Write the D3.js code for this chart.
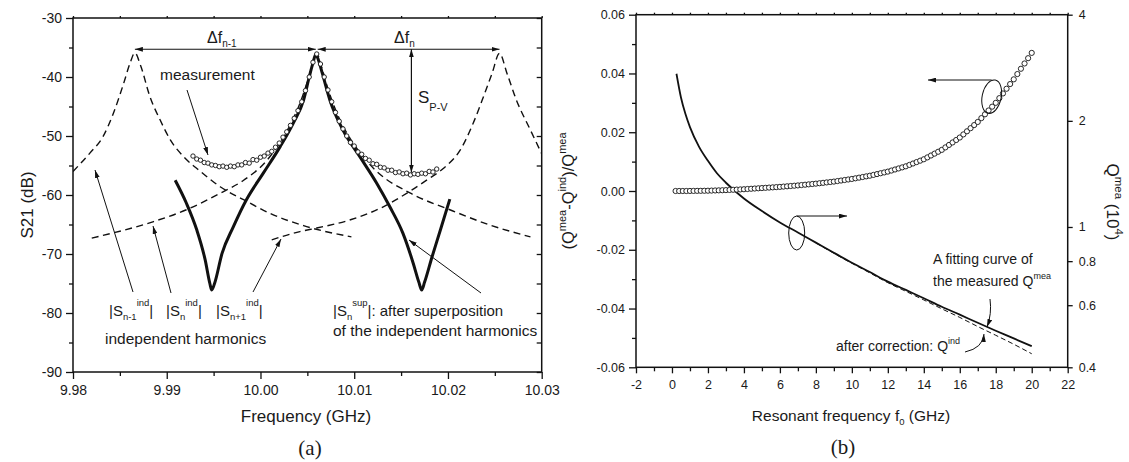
<!DOCTYPE html>
<html>
<head>
<meta charset="utf-8">
<script src="https://cdn.jsdelivr.net/npm/d3@7"></script>
<style>
  body { margin: 0; background: #fff; }
  svg text { font-family: "Liberation Sans", Arial, sans-serif; fill: #1a1a1a; white-space: pre; }
</style>
</head>
<body>
<svg id="chart" width="1129" height="462"></svg>
<script>
// ---------- panel (a): S21 near the n-th harmonic ----------
const freqTicksA = [9.98, 9.99, 10.00, 10.01, 10.02, 10.03];
const freqMinorA = [9.985, 9.995, 10.005, 10.015, 10.025];
const dbTicksA = [-90, -80, -70, -60, -50, -40, -30];
const dbMinorA = [-85, -75, -65, -55, -45, -35];

// independent harmonics [GHz, dB]
const harmPrev = [[9.9800,-56.0],[9.9818,-52.9],[9.9832,-50.1],[9.9843,-46.2],[9.9854,-41.1],[9.9861,-37.6],
  [9.9866,-35.9],[9.9872,-38.0],[9.9882,-43.3],[9.9893,-47.3],[9.9904,-50.7],[9.9918,-53.5],[9.9936,-56.0],
  [9.9957,-58.6],[9.9982,-60.8],[10.0010,-63.1],[10.0046,-65.2],[10.0097,-67.1]];
const harmCur = [[9.9820,-67.3],[9.9886,-64.5],[9.9921,-62.5],[9.9957,-59.7],[9.9982,-57.5],[10.0007,-54.1],
  [10.0020,-51.3],[10.0032,-48.0],[10.0042,-44.5],[10.0050,-40.8],[10.0055,-38.2],[10.0060,-36.0],[10.0065,-38.2],
  [10.0072,-42.0],[10.0084,-47.0],[10.0098,-51.0],[10.0112,-54.0],[10.0124,-56.0],[10.0160,-59.7],[10.0202,-62.5],
  [10.0245,-65.1],[10.0288,-67.1]];
const harmNext = [[10.0012,-67.6],[10.0042,-66.2],[10.0060,-65.6],[10.0096,-64.2],[10.0131,-62.0],[10.0159,-59.4],
  [10.0178,-57.4],[10.0195,-55.5],[10.0213,-52.4],[10.0227,-47.8],[10.0238,-43.3],[10.0247,-39.4],[10.0255,-36.0],
  [10.0263,-39.4],[10.0273,-43.9],[10.0288,-49.0],[10.0300,-53.0]];

// |Sn sup|: after superposition
const superposed = [[9.9909,-57.5],[9.9921,-61.4],[9.9932,-65.9],[9.9941,-71.0],[9.9946,-75.0],[9.9948,-76.1],
  [9.9951,-75.0],[9.9959,-69.9],[9.9971,-65.4],[9.9985,-60.8],[10.0003,-56.3],[10.0021,-51.8],[10.0035,-47.8],
  [10.0046,-43.9],[10.0052,-40.0],[10.0056,-37.6],[10.0059,-36.2],[10.0062,-37.2],[10.0066,-39.4],[10.0074,-43.9],
  [10.0088,-49.0],[10.0106,-53.5],[10.0124,-58.0],[10.0138,-62.0],[10.0152,-66.5],[10.0163,-71.6],[10.0169,-74.8],
  [10.0172,-76.1],[10.0175,-74.8],[10.0183,-70.5],[10.0192,-65.9],[10.0202,-60.7]];

// measurement
const measured = [[9.9928,-53.4],[9.9932,-53.9],[9.9936,-54.1],[9.9940,-54.5],[9.9944,-54.6],[9.9948,-54.9],
  [9.9952,-55.0],[9.9956,-55.2],[9.9960,-55.1],[9.9964,-55.3],[9.9968,-55.1],[9.9972,-55.2],[9.9976,-54.9],
  [9.9980,-54.9],[9.9984,-54.5],[9.9988,-54.6],[9.9992,-54.0],[9.9996,-54.1],[10.0000,-53.6],[10.0004,-53.4],
  [10.0008,-52.9],[10.0012,-52.6],[10.0016,-51.9],[10.0020,-51.2],[10.0024,-50.2],[10.0028,-49.3],[10.0032,-48.2],
  [10.0036,-47.0],[10.0040,-45.7],[10.0044,-44.2],[10.0048,-42.3],[10.0052,-40.0],[10.0056,-37.5],[10.0060,-36.1],
  [10.0064,-37.8],[10.0068,-40.0],[10.0072,-42.2],[10.0076,-44.2],[10.0080,-46.0],[10.0084,-47.5],[10.0088,-48.8],
  [10.0092,-50.0],[10.0096,-51.1],[10.0100,-51.7],[10.0104,-52.7],[10.0108,-53.1],[10.0112,-53.8],[10.0116,-54.1],
  [10.0120,-54.7],[10.0124,-54.8],[10.0128,-55.3],[10.0132,-55.4],[10.0136,-55.8],[10.0140,-55.8],[10.0144,-56.2],
  [10.0148,-56.1],[10.0152,-56.4],[10.0156,-56.3],[10.0160,-56.6],[10.0164,-56.4],[10.0168,-56.5],[10.0172,-56.3],
  [10.0176,-56.4],[10.0180,-56.0],[10.0184,-56.1],[10.0188,-55.6]];

// ---------- panel (b): Q correction vs resonant frequency ----------
const freqTicksB = [-2, 0, 2, 4, 6, 8, 10, 12, 14, 16, 18, 20, 22];
const freqMinorB = [-1, 1, 3, 5, 7, 9, 11, 13, 15, 17, 19, 21];
const ratioTicksB = [-0.06, -0.04, -0.02, 0, 0.02, 0.04, 0.06];
const ratioMinorB = [-0.05, -0.03, -0.01, 0.01, 0.03, 0.05];
const qTicksB = [0.4, 0.6, 0.8, 1, 2, 4];

const freqB = [0.2,0.4,0.6,0.8,1.0,1.2,1.4,1.6,1.8,2.0,2.2,2.4,2.6,2.8,3.0,3.2,3.4,3.6,3.8,4.0,
  4.2,4.4,4.6,4.8,5.0,5.2,5.4,5.6,5.8,6.0,6.2,6.4,6.6,6.8,7.0,7.2,7.4,7.6,7.8,8.0,
  8.2,8.4,8.6,8.8,9.0,9.2,9.4,9.6,9.8,10.0,10.2,10.4,10.6,10.8,11.0,11.2,11.4,11.6,11.8,12.0,
  12.2,12.4,12.6,12.8,13.0,13.2,13.4,13.6,13.8,14.0,14.2,14.4,14.6,14.8,15.0,15.2,15.4,15.6,15.8,16.0,
  16.2,16.4,16.6,16.8,17.0,17.2,17.4,17.6,17.8,18.0,18.2,18.4,18.6,18.8,19.0,19.2,19.4,19.6,19.8,20.0];
const ratioB = [0,0,0,0,0.00002,0.00003,0.00005,0.00006,0.00008,0.0001,
  0.00014,0.00018,0.00022,0.00026,0.0003,0.00036,0.00042,0.00048,0.00054,0.0006,
  0.00068,0.00076,0.00084,0.00092,0.0010,0.00108,0.00116,0.00124,0.00132,0.0014,
  0.0015,0.0016,0.0017,0.0018,0.0019,0.00202,0.00214,0.00226,0.00238,0.0025,
  0.00264,0.00278,0.00292,0.00306,0.0032,0.00338,0.00356,0.00374,0.00392,0.0041,
  0.00432,0.00454,0.00476,0.00498,0.0052,0.00548,0.00576,0.00604,0.00632,0.0066,
  0.00696,0.00732,0.00768,0.00804,0.0084,0.00888,0.00936,0.00984,0.01032,0.0108,
  0.01144,0.01208,0.01272,0.01336,0.0140,0.01484,0.01568,0.01652,0.01736,0.0182,
  0.01926,0.02032,0.02138,0.02244,0.0235,0.0248,0.0261,0.0274,0.0287,0.0300,
  0.0316,0.0332,0.0348,0.0364,0.0380,0.0398,0.0416,0.0434,0.0452,0.0470];

const fitFreq = [0.25,0.5,0.75,1,1.5,2,2.5,3,4,5,6,7,8,9,10,11,12,13,14,15,16,17,18,19,20];
const qMeaFit = [2.72,2.33,2.09,1.92,1.69,1.54,1.42,1.335,1.205,1.11,1.03,0.965,0.903,0.845,0.792,0.745,
  0.70,0.663,0.628,0.594,0.564,0.535,0.508,0.483,0.459];
const indFreq = [8,9,10,11,12,13,14,15,16,17,18,19,20];
const qInd = [0.901,0.842,0.789,0.741,0.695,0.657,0.621,0.586,0.554,0.522,0.493,0.465,0.437];

// ---------- helpers ----------
const FONT = '"Liberation Sans", Arial, sans-serif';
const INK = '#111';
const loc = d3.formatLocale({decimal: '.', thousands: ',', grouping: [3], currency: ['', ''], minus: '-'});

const svg = d3.select('#chart');
const defs = svg.append('defs');
defs.append('marker').attr('id', 'head')
  .attr('viewBox', '0 0 10 6').attr('refX', 10).attr('refY', 3)
  .attr('markerWidth', 8).attr('markerHeight', 5).attr('markerUnits', 'userSpaceOnUse')
  .attr('orient', 'auto-start-reverse')
  .append('path').attr('d', 'M0,0L10,3L0,6Z').attr('fill', INK);

function axis(g, gen, values, size, fmt, fontSize, pad) {
  g.call(gen.tickValues(values).tickSizeInner(size).tickSizeOuter(0)
    .tickPadding(pad || 5).tickFormat(fmt || (() => '')));
  g.select('.domain').remove();
  g.selectAll('line').attr('stroke', INK).attr('stroke-width', 1.3);
  g.selectAll('text').attr('font-size', fontSize || 14).attr('font-family', FONT).attr('fill', '#1a1a1a');
  return g;
}

// text with sub/superscripts: parts are strings or [string, 'sub'|'sup']
function rich(g, x, y, parts, size, opts = {}) {
  const t = g.append('text').attr('x', x).attr('y', y).attr('font-size', size)
    .attr('text-anchor', opts.anchor || 'start');
  if (opts.transform) t.attr('transform', opts.transform);
  let cur = 0;
  parts.forEach(p => {
    const [s, kind] = Array.isArray(p) ? p : [p, null];
    const off = kind === 'sup' ? (opts.sup ?? -size * 0.45) : kind === 'sub' ? (opts.sub ?? size * 0.25) : 0;
    t.append('tspan').attr('dy', off - cur).attr('font-size', kind ? (opts.small || size * 0.62) : size).text(s);
    cur = off;
  });
  return t;
}

function arrow(g, x1, y1, x2, y2, both, w) {
  const l = g.append('line').attr('x1', x1).attr('y1', y1).attr('x2', x2).attr('y2', y2)
    .attr('stroke', INK).attr('stroke-width', w || 1).attr('marker-end', 'url(#head)');
  if (both) l.attr('marker-start', 'url(#head)');
  return l;
}

// ---------- panel (a) ----------
const xA = d3.scaleLinear().domain([9.98, 10.03]).range([73, 541.7]);
const yA = d3.scaleLinear().domain([-90, -30]).range([372, 18]);
const gA = svg.append('g');

defs.append('clipPath').attr('id', 'clipA').append('rect')
  .attr('x', xA(9.98)).attr('y', yA(-30)).attr('width', xA(10.03) - xA(9.98)).attr('height', yA(-90) - yA(-30));

axis(gA.append('g').attr('transform', `translate(0,${yA(-90)})`), d3.axisBottom(xA), freqTicksA, 7, loc.format('.2f'), 14, 6);
axis(gA.append('g').attr('transform', `translate(0,${yA(-90)})`), d3.axisBottom(xA), freqMinorA, 4);
axis(gA.append('g').attr('transform', `translate(${xA(9.98)},0)`), d3.axisLeft(yA), dbTicksA, 7, loc.format('d'), 14, 4);
axis(gA.append('g').attr('transform', `translate(${xA(9.98)},0)`), d3.axisLeft(yA), dbMinorA, 4);
axis(gA.append('g').attr('transform', `translate(0,${yA(-30)})`), d3.axisTop(xA), freqTicksA.concat(freqMinorA), 2);
axis(gA.append('g').attr('transform', `translate(${xA(10.03)},0)`), d3.axisRight(yA), dbTicksA.concat(dbMinorA), -5);

gA.append('rect').attr('x', xA(9.98)).attr('y', yA(-30))
  .attr('width', xA(10.03) - xA(9.98)).attr('height', yA(-90) - yA(-30))
  .attr('fill', 'none').attr('stroke', INK).attr('stroke-width', 1.5);

const plotA = gA.append('g').attr('clip-path', 'url(#clipA)');
const lineA = d3.line().x(d => xA(d[0])).y(d => yA(d[1])).curve(d3.curveMonotoneX);

plotA.selectAll('path.harm').data([harmPrev, harmCur, harmNext]).join('path')
  .attr('class', 'harm').attr('d', lineA).attr('fill', 'none')
  .attr('stroke', INK).attr('stroke-width', 1.4).attr('stroke-dasharray', '7,4.5');

plotA.append('path').datum(superposed).attr('d', lineA).attr('fill', 'none')
  .attr('stroke', INK).attr('stroke-width', 3).attr('stroke-linejoin', 'round');

plotA.selectAll('circle.meas').data(measured).join('circle')
  .attr('class', 'meas').attr('cx', d => xA(d[0])).attr('cy', d => yA(d[1])).attr('r', 2.2)
  .attr('fill', '#fff').attr('stroke', INK).attr('stroke-width', 0.9);

// annotations (a)
const pkY = yA(-35.3);
arrow(gA, xA(9.9866), pkY, xA(10.0059), pkY, true, 1.2);
arrow(gA, xA(10.0061), pkY, xA(10.0255), pkY, true, 1.2);
arrow(gA, xA(10.0161), pkY, xA(10.0161), yA(-56.2), true, 1.2);
rich(gA, 207, 43, ['\u0394f', ['n-1', 'sub']], 16, {small: 10, sub: 4});
rich(gA, 394, 43, ['\u0394f', ['n', 'sub']], 16, {small: 10, sub: 4});
rich(gA, 418, 103, ['S', ['P-V', 'sub']], 17, {small: 11, sub: 8});

gA.append('text').attr('x', 160).attr('y', 80).attr('font-size', 15.5).text('measurement');
arrow(gA, 187, 90, 208, 155);

rich(gA, 109, 316, ['|S', ['n-1', 'sub'], ['ind', 'sup'], '|'], 15, {small: 9.5, sub: 3.5, sup: -10});
rich(gA, 166, 316, ['|S', ['n', 'sub'], ['ind', 'sup'], '|'], 15, {small: 9.5, sub: 3.5, sup: -10});
rich(gA, 216, 316, ['|S', ['n+1', 'sub'], ['ind', 'sup'], '|'], 15, {small: 9.5, sub: 3.5, sup: -10});
gA.append('text').attr('x', 105).attr('y', 344).attr('font-size', 15.5).text('independent harmonics');
arrow(gA, 133, 292, 95, 170);
arrow(gA, 171, 293, 153, 226);
arrow(gA, 253, 292, 281, 239);

rich(gA, 333, 316, ['|S', ['n', 'sub'], ['sup', 'sup'], '|: after superposition'], 15, {small: 9.5, sub: 3.5, sup: -10});
gA.append('text').attr('x', 333).attr('y', 336).attr('font-size', 15.5).text('of the independent harmonics');
arrow(gA, 481, 293, 409, 240);

gA.append('text').attr('transform', 'translate(33,205) rotate(-90)').attr('text-anchor', 'middle')
  .attr('font-size', 17).text('S21 (dB)');
gA.append('text').attr('x', 306).attr('y', 422).attr('text-anchor', 'middle')
  .attr('font-size', 17).text('Frequency (GHz)');
gA.append('text').attr('x', 310).attr('y', 455).attr('text-anchor', 'middle')
  .attr('font-size', 21).style('font-family', '"Liberation Serif", "Times New Roman", serif').text('(a)');

// ---------- panel (b) ----------
const xB = d3.scaleLinear().domain([-2, 22]).range([636, 1067.7]);
const yB = d3.scaleLinear().domain([-0.06, 0.06]).range([367.3, 14.7]);
const yQ = d3.scaleLog().domain([0.4, 4]).range([367.3, 14.7]);
const gB = svg.append('g');

axis(gB.append('g').attr('transform', `translate(0,${yB(-0.06)})`), d3.axisBottom(xB), freqTicksB, 6, loc.format('d'), 12.5, 7);
axis(gB.append('g').attr('transform', `translate(0,${yB(-0.06)})`), d3.axisBottom(xB), freqMinorB, 4);
axis(gB.append('g').attr('transform', `translate(${xB(-2)},0)`), d3.axisLeft(yB), ratioTicksB, 7, loc.format('.2f'), 12.5, 4);
axis(gB.append('g').attr('transform', `translate(${xB(-2)},0)`), d3.axisLeft(yB), ratioMinorB, 4);
axis(gB.append('g').attr('transform', `translate(0,${yB(0.06)})`), d3.axisTop(xB), freqTicksB.concat(freqMinorB), 2);
axis(gB.append('g').attr('transform', `translate(${xB(22)},0)`), d3.axisRight(yQ), qTicksB, 5, loc.format('~g'), 12.5, 6);

gB.append('rect').attr('x', xB(-2)).attr('y', yB(0.06))
  .attr('width', xB(22) - xB(-2)).attr('height', yB(-0.06) - yB(0.06))
  .attr('fill', 'none').attr('stroke', INK).attr('stroke-width', 1.5);

const fitLine = d3.line().x((d, i) => xB(fitFreq[i])).y(d => yQ(d)).curve(d3.curveMonotoneX);
gB.append('path').datum(qMeaFit).attr('d', fitLine).attr('fill', 'none')
  .attr('stroke', INK).attr('stroke-width', 1.8);
const indLine = d3.line().x((d, i) => xB(indFreq[i])).y(d => yQ(d)).curve(d3.curveMonotoneX);
gB.append('path').datum(qInd).attr('d', indLine).attr('fill', 'none')
  .attr('stroke', INK).attr('stroke-width', 1).attr('stroke-dasharray', '5,3');

gB.selectAll('circle.ratio').data(ratioB).join('circle')
  .attr('class', 'ratio').attr('cx', (d, i) => xB(freqB[i])).attr('cy', d => yB(d)).attr('r', 2.6)
  .attr('fill', '#fff').attr('stroke', INK).attr('stroke-width', 0.9);

// annotations (b)
gB.append('ellipse').attr('cx', 991.7).attr('cy', 96.7).attr('rx', 9.5).attr('ry', 17)
  .attr('transform', 'rotate(12,991.7,96.7)').attr('fill', 'none').attr('stroke', INK).attr('stroke-width', 1);
arrow(gB, 991.7, 80, 928, 80);
gB.append('ellipse').attr('cx', 796.7).attr('cy', 233).attr('rx', 8).attr('ry', 17)
  .attr('fill', 'none').attr('stroke', INK).attr('stroke-width', 1);
arrow(gB, 796.7, 216, 847, 216);

gB.append('text').attr('x', 933).attr('y', 264).attr('font-size', 14).text('A fitting curve of');
rich(gB, 933, 286, ['the measured Q', ['mea', 'sup']], 14, {small: 9, sup: -7});
gB.append('path').attr('d', 'M990,299 Q992,314 987,327').attr('fill', 'none')
  .attr('stroke', INK).attr('stroke-width', 1).attr('marker-end', 'url(#head)');
rich(gB, 836, 351, ['after correction: Q', ['ind', 'sup']], 14, {small: 9, sup: -7});
gB.append('path').attr('d', 'M965,352 Q983,348 984,334').attr('fill', 'none')
  .attr('stroke', INK).attr('stroke-width', 1).attr('marker-end', 'url(#head)');

rich(gB, 0, 0, ['(Q', ['mea', 'sup'], '-Q', ['ind', 'sup'], ')/Q', ['mea', 'sup']], 16.5,
  {anchor: 'middle', transform: 'translate(574,191) rotate(-90)', small: 11, sup: -8});
rich(gB, 0, 0, ['Q', ['mea', 'sup'], ' (10', ['4', 'sup'], ')'], 17,
  {anchor: 'middle', transform: 'translate(1107,202) rotate(90)', small: 11.5, sup: -8});
rich(gB, 851, 421, ['Resonant frequency f', ['0', 'sub'], ' (GHz)'], 15.5, {anchor: 'middle', small: 9.5, sub: 4});
gB.append('text').attr('x', 843).attr('y', 454).attr('text-anchor', 'middle')
  .attr('font-size', 21).style('font-family', '"Liberation Serif", "Times New Roman", serif').text('(b)');
</script>
</body>
</html>
